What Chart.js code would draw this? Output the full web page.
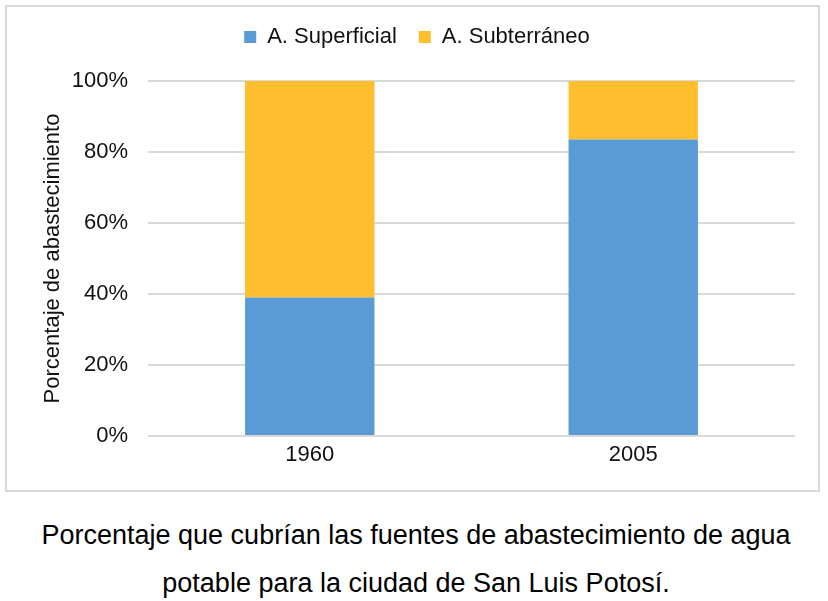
<!DOCTYPE html>
<html>
<head>
<meta charset="utf-8">
<script src="https://cdn.jsdelivr.net/npm/chart.js@4.4.1/dist/chart.umd.min.js"></script>
<style>
    body { margin: 0; background: #fff; font-family: "Liberation Sans", Arial, sans-serif; }
    #box { position: absolute; left: 5px; top: 5px; width: 811px; height: 483px; border: 2px solid #d9d9d9; }
    #caption { position: absolute; left: 2px; top: 511px; width: 828px; text-align: center; font-size: 27px; line-height: 48px; color: #000; }
</style>
</head>
<body>
<div id="box"><canvas id="chart" width="811" height="483"></canvas></div>
<div id="caption">Porcentaje que cubrían las fuentes de abastecimiento de agua<br>potable para la ciudad de San Luis Potosí.</div>
<script>
    // Chart data
    const years = ['1960', '2005'];
    const superficial = [39, 83.5];
    const subterraneo = [61, 16.5];
    const yTicks = [0, 20, 40, 60, 80, 100];

    const textColor = '#111';
    const fontFamily = '"Liberation Sans", Arial, sans-serif';

    // Extra room under the legend and move it a bit to the right
    const legendSpacer = {
        id: 'legendSpacer',
        beforeInit(chart) {
            const origFit = chart.legend.fit;
            chart.legend.fit = function() {
                origFit.call(this);
                this.height += 23;
            };
        },
        afterLayout(chart) {
            chart.legend.left += 16;
            chart.legend.right += 16;
        }
    };

    const ctx = document.getElementById('chart').getContext('2d');
    new Chart(ctx, {
        type: 'bar',
        data: {
            labels: years,
            datasets: [{
                label: 'A. Superficial',
                data: superficial,
                backgroundColor: '#5B9BD5',
                borderWidth: 0,
                barPercentage: 0.4,
                categoryPercentage: 1.0
            }, {
                label: 'A. Subterráneo',
                data: subterraneo,
                backgroundColor: '#FEBE2E',
                borderWidth: 0,
                barPercentage: 0.4,
                categoryPercentage: 1.0
            }]
        },
        plugins: [legendSpacer],
        options: {
            responsive: false,
            animation: false,
            layout: { padding: { top: -3, right: 23, left: 0, bottom: 0 } },
            plugins: {
                legend: {
                    position: 'top',
                    labels: {
                        boxWidth: 12,
                        boxHeight: 12,
                        padding: 22,
                        color: textColor,
                        font: { family: fontFamily, size: 22 }
                    }
                },
                tooltip: { enabled: false }
            },
            scales: {
                x: {
                    stacked: true,
                    grid: { display: false },
                    border: { display: false },
                    afterFit: scale => { scale.height = 54; },
                    ticks: { color: textColor, padding: -2, font: { family: fontFamily, size: 22 } }
                },
                y: {
                    stacked: true,
                    min: 0,
                    max: 100,
                    afterBuildTicks: function(scale) {
                        scale.ticks = yTicks.map(v => ({ value: v }));
                    },
                    afterFit: scale => { scale.width = 141; },
                    grid: { color: '#d9d9d9', lineWidth: 2, drawTicks: false },
                    border: { display: false },
                    ticks: {
                        color: textColor,
                        padding: 20,
                        font: { family: fontFamily, size: 22 },
                        callback: v => v + '%'
                    },
                    title: {
                        display: true,
                        text: 'Porcentaje de abastecimiento',
                        color: textColor,
                        padding: { top: 33, bottom: 0 },
                        font: { family: fontFamily, size: 22 }
                    }
                }
            }
        }
    });
</script>
</body>
</html>
